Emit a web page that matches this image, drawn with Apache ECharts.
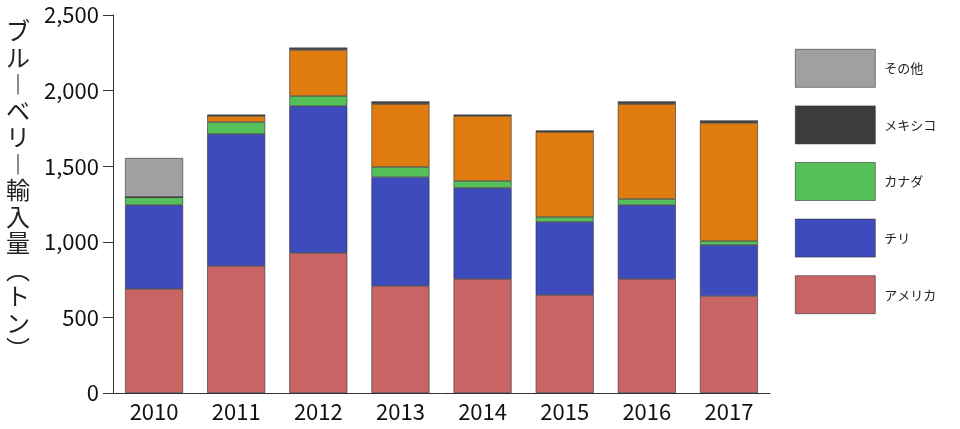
<!DOCTYPE html>
<html>
<head>
<meta charset="utf-8">
<script src="https://cdn.jsdelivr.net/npm/echarts@6/dist/echarts.min.js"></script>
<style>html,body{margin:0;padding:0;background:#fff;}#main{width:960px;height:429px;}</style>
</head>
<body>
<div id="main"></div>
<script>
// 年
var years = ['2010','2011','2012','2013','2014','2015','2016','2017'];
// 国別輸入量（トン）
var usa    = [688, 840, 926, 708, 754, 648, 754, 641];
var chile  = [555, 873, 972, 720, 602, 483, 489, 338];
var canada = [53, 79, 66, 67, 46, 33, 40, 26];
var orange = [0, 40, 304, 416, 430, 562, 628, 781];
var mexico = [0, 6, 13, 14, 6, 7, 14, 13];
var other  = [258, 0, 0, 0, 0, 0, 0, 0];

var font = '"Liberation Sans Narrow", "Noto Sans CJK JP", sans-serif';
function bar(name, data, color){
  return {name:name, type:'bar', stack:'all', data:data, barWidth:58,
    itemStyle:{color:color, borderColor:'#333', borderWidth:0.6}};
}
var myChart = echarts.init(document.getElementById('main'));
var option = {
  animation:false,
  grid:{left:113, top:15, width:657, bottom:36},
  legend:{
    orient:'vertical', left:790, top:44, itemWidth:80, itemHeight:38, itemGap:18,
    icon:'rect', data:['その他','メキシコ','カナダ','チリ','アメリカ'],
    textStyle:{fontSize:13, fontFamily:font, color:'#222', padding:[14,0,0,4]},
    itemStyle:{borderColor:'#333', borderWidth:0.6}
  },
  xAxis:{type:'category', data:years,
    axisLine:{lineStyle:{color:'#333'}}, axisTick:{show:false},
    axisLabel:{fontSize:22, fontFamily:font, color:'#111', margin:8}},
  yAxis:{type:'value', min:0, max:2500, interval:500,
    axisLine:{show:true, lineStyle:{color:'#333'}},
    axisTick:{show:true, length:10, lineStyle:{color:'#333'}},
    splitLine:{show:false},
    axisLabel:{fontSize:22, fontFamily:font, color:'#111', margin:14}},
  graphic:[{type:'text', left:6, top:18,
    style:{text:'ブ\nル\n︱\nベ\nリ\n︱\n輸\n入\n量\n︵\nト\nン\n︶', fontSize:24, lineHeight:26.5,
      fontFamily:'"Noto Sans CJK JP", sans-serif', fill:'#222', align:'center'}}],
  series:[
    bar('アメリカ', usa, '#c86464'),
    bar('チリ', chile, '#3d4bbd'),
    bar('カナダ', canada, '#55c05a'),
    bar('アルゼンチン', orange, '#e07b10'),
    bar('メキシコ', mexico, '#3c3c3c'),
    bar('その他', other, '#a0a0a0')
  ]
};
myChart.setOption(option);
</script>
</body>
</html>
